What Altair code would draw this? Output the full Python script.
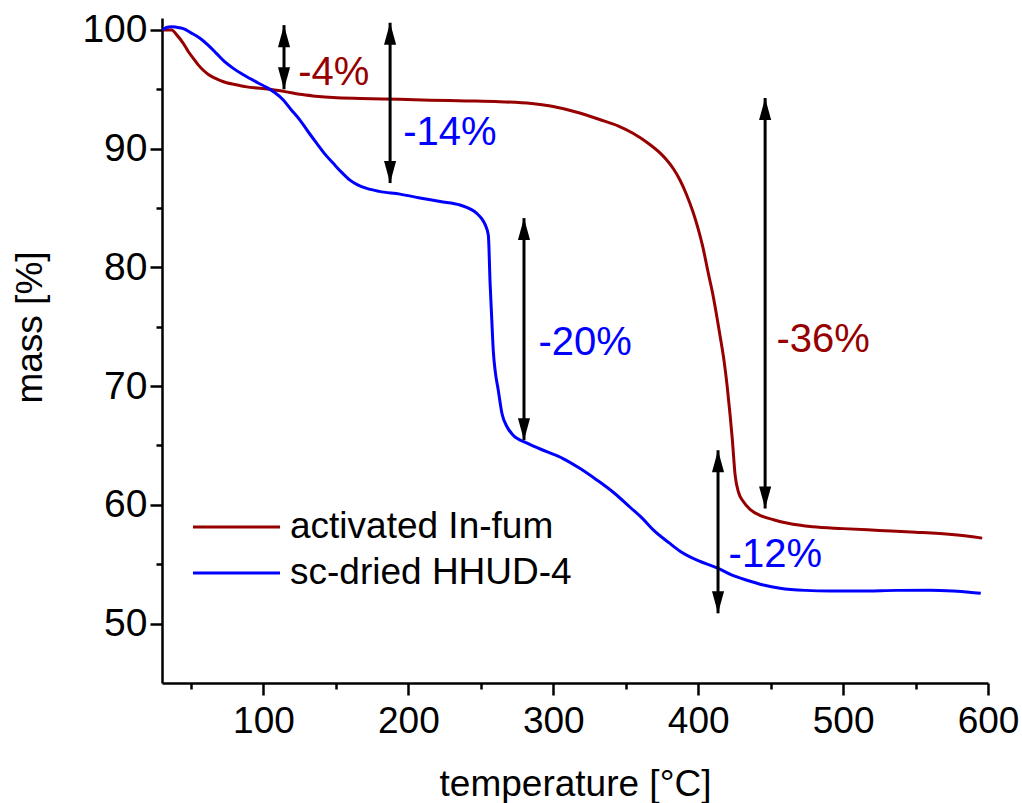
import altair as alt
import pandas as pd

FONT = "Liberation Sans"
FS = 37
ANN_FS = 40

series_names = ["activated In-fum", "sc-dried HHUD-4"]
series_colors = ["#960000", "#0000ff"]

# activated In-fum (dark red)
temp_red = [30.5, 36.7, 40, 44.7, 48, 51.6, 55, 58.5, 62, 65.4, 70, 74.6, 80, 88.5, 96, 104.5,
            115, 125, 136, 148, 167, 194, 215, 240, 263, 285, 300, 315, 332, 345, 355, 365,
            374, 378, 383, 387.5, 392, 396.5, 400, 403, 407, 410, 415, 418, 420, 422, 423.5,
            425.5, 428, 431, 436, 443, 452, 462, 479, 500, 525, 550, 575, 596]
mass_red = [100.0, 100.0, 99.6, 98.87, 98.2, 97.6, 97.05, 96.6, 96.25, 96.0, 95.75, 95.55, 95.4,
            95.2, 95.1, 95.0, 94.8, 94.57, 94.42, 94.3, 94.22, 94.15, 94.08, 94.02, 93.95, 93.8,
            93.55, 93.1, 92.45, 91.9, 91.3, 90.5, 89.6, 89.08, 88.28, 87.34, 86.12, 84.64,
            83.24, 81.83, 79.5, 77.8, 74.3, 72.0, 70.0, 67.6, 65.6, 62.5, 61.0, 60.3, 59.6,
            59.1, 58.75, 58.45, 58.15, 58.0, 57.85, 57.7, 57.5, 57.2]

# sc-dried HHUD-4 (blue)
temp_blue = [30.5, 33, 36.7, 40, 44.7, 50, 56.2, 62, 67.7, 73, 79.2, 85, 90.7, 96, 102.2, 108,
             113.7, 119, 125.2, 131, 136.8, 142, 148.2, 154, 159.7, 165, 171.3, 180, 194.2, 208,
             222, 235.7, 247.2, 250.6, 253, 255.2, 256.4, 257.5, 258.6, 260, 262, 264.6, 268,
             272, 282, 295, 306.7, 318, 330, 342, 353, 362, 369, 380, 387.5, 400, 413, 423,
             433.7, 445, 456.5, 474, 491, 510, 537, 560, 576, 587, 595]
mass_blue = [100.0, 100.2, 100.27, 100.22, 100.1, 99.75, 99.3, 98.7, 98.0, 97.35, 96.76, 96.3,
             95.9, 95.55, 95.16, 94.7, 94.1, 93.3, 92.4, 91.4, 90.44, 89.6, 88.76, 88.0, 87.35,
             86.95, 86.65, 86.4, 86.17, 85.85, 85.55, 85.25, 84.55, 84.1, 83.6, 82.7, 78.7,
             75.8, 73.0, 71.2, 69.7, 67.7, 66.6, 65.9, 65.2, 64.5, 63.9, 63.1, 62.1, 61.0, 59.8,
             58.8, 57.9, 56.8, 56.1, 55.3, 54.7, 54.1, 53.65, 53.25, 52.98, 52.8, 52.75, 52.75,
             52.8, 52.82, 52.75, 52.65, 52.55]

# double-headed arrows
arrow_temp = [114.2, 187.4, 279.8, 446.2, 413.7]
arrow_top = [100.4, 100.6, 84.15, 94.26, 64.6]
arrow_bottom = [95.0, 87.1, 65.45, 59.7, 50.87]

# annotations
ann_text = ["-4%", "-14%", "-20%", "-36%", "-12%"]
ann_temp = [124.0, 196.5, 289.8, 454.0, 421.0]
ann_mass = [96.37, 91.3, 73.6, 73.9, 55.8]
ann_color = ["#960000", "#0000ff", "#0000ff", "#960000", "#0000ff"]

x_major = [100, 200, 300, 400, 500, 600]
x_minor = [50, 150, 250, 350, 450, 550]
y_major = [50, 60, 70, 80, 90, 100]
y_minor = [55, 65, 75, 85, 95]

rows = []
for name, ts, ms in [(series_names[0], temp_red, mass_red), (series_names[1], temp_blue, mass_blue)]:
    for i, (t, m) in enumerate(zip(ts, ms)):
        rows.append({"T": t, "mass": m, "series": name, "idx": i})
df = pd.DataFrame(rows)

arrows = pd.DataFrame({"T": arrow_temp, "mass": arrow_top, "mass2": arrow_bottom})
tops = pd.DataFrame({"T": arrow_temp, "mass": arrow_top})
bottoms = pd.DataFrame({"T": arrow_temp, "mass": arrow_bottom})
ann = pd.DataFrame({"T": ann_temp, "mass": ann_mass, "label": ann_text, "col": ann_color})

xscale = alt.Scale(domain=[30, 600], nice=False, zero=False)
yscale = alt.Scale(domain=[45, 101], nice=False, zero=False)

xaxis = alt.Axis(values=x_major, tickSize=12, labelPadding=8, grid=False,
                 title="temperature [°C]", titleY=112, titleBaseline="alphabetic",
                 labelFlush=False)
yaxis = alt.Axis(values=y_major, tickSize=12, labelPadding=3, grid=False,
                 title="mass [%]", titleX=-132, titleY=309, titleBaseline="middle",
                 titleAngle=270, labelFontSize=39)

X = alt.X("T:Q", scale=xscale, axis=xaxis)
Y = alt.Y("mass:Q", scale=yscale, axis=yaxis)

lines = alt.Chart(df).mark_line(strokeWidth=3, interpolate="monotone").encode(
    x=X, y=Y,
    color=alt.Color("series:N",
                    scale=alt.Scale(domain=series_names, range=series_colors),
                    legend=alt.Legend(title=None, orient="none", legendX=56, legendY=490.5,
                                      symbolType="M-4,0H4", symbolSize=473,
                                      symbolStrokeWidth=3, labelFont=FONT, labelFontSize=FS,
                                      labelOffset=35, padding=0, rowPadding=8,
                                      labelColor="black", labelLimit=0)),
    order="idx:Q",
)

shafts = alt.Chart(arrows).mark_rule(color="black", strokeWidth=3).encode(
    x=X, y=Y, y2="mass2:Q")

up_head = alt.Chart(tops).mark_point(shape="M0,0L0.55,2L-0.55,2Z", filled=True, color="black",
                                     size=484, opacity=1, strokeWidth=0).encode(x=X, y=Y)
down_head = alt.Chart(bottoms).mark_point(shape="M0,0L0.55,-2L-0.55,-2Z", filled=True,
                                          color="black", size=484, opacity=1,
                                          strokeWidth=0).encode(x=X, y=Y)

labels = alt.Chart(ann).mark_text(align="left", baseline="middle", font=FONT,
                                  fontSize=ANN_FS).encode(
    x=X, y=Y, text="label:N", color=alt.Color("col:N", scale=None))

main = alt.layer(lines, shafts, up_head, down_head, labels)

minor = alt.Chart(df).mark_point(opacity=0).encode(
    x=alt.X("T:Q", scale=xscale,
            axis=alt.Axis(values=x_minor, tickSize=6, labels=False, domain=False, grid=False,
                          title=None, orient="bottom")),
    y=alt.Y("mass:Q", scale=yscale,
            axis=alt.Axis(values=y_minor, tickSize=6, labels=False, domain=False, grid=False,
                          title=None, orient="left")),
)

chart = alt.layer(main, minor).resolve_scale(x="independent", y="independent").properties(
    width=826, height=665,
    autosize=alt.AutoSizeParams(type="none"),
    padding={"left": 162, "top": 18, "right": 34, "bottom": 120},
    background="white",
).configure_view(stroke=None).configure_axis(
    domainColor="black", domainWidth=2.5, tickColor="black", tickWidth=2.5,
    labelFont=FONT, labelFontSize=FS, labelColor="black",
    titleFont=FONT, titleFontSize=FS, titleFontWeight="normal", titleColor="black",
)

chart.save("out.html", embed_options={"renderer": "svg", "actions": False})
